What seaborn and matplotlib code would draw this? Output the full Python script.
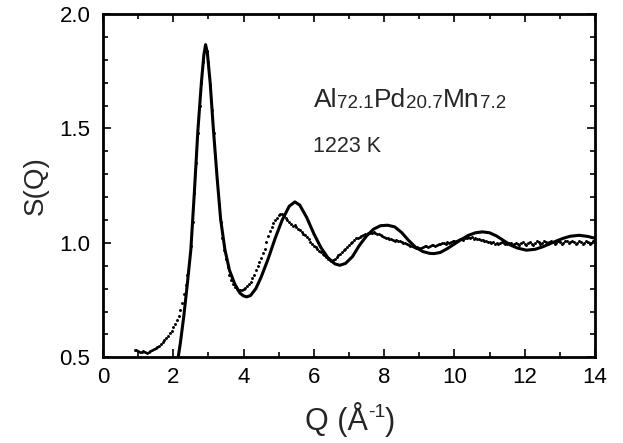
import numpy as np
import pandas as pd
import seaborn as sns
import matplotlib
matplotlib.use("Agg")
import matplotlib.pyplot as plt
from matplotlib.ticker import MultipleLocator, FormatStrFormatter

# 実験データ (点) : Q [1/Å], S(Q)
q_exp = [0.90, 0.95, 1.00, 1.05, 1.10, 1.15, 1.20, 1.25, 1.30, 1.35, 1.40, 1.45, 1.50,
         1.55, 1.60, 1.65, 1.70, 1.75, 1.80, 1.85, 1.90, 1.95, 2.00, 2.05, 2.10, 2.15,
         2.20, 2.25, 2.30, 2.35, 2.40, 2.45, 2.50, 2.55, 2.60, 2.65, 2.70, 2.75, 2.80,
         2.85, 2.90, 2.95, 3.00, 3.05, 3.10, 3.15, 3.20, 3.25, 3.30, 3.35, 3.40, 3.45,
         3.50, 3.55, 3.60, 3.65, 3.70, 3.75, 3.80, 3.85, 3.90, 3.95, 4.00, 4.05, 4.10,
         4.15, 4.20, 4.25, 4.30, 4.35, 4.40, 4.45, 4.50, 4.55, 4.60, 4.65, 4.70, 4.75,
         4.80, 4.85, 4.90, 4.95, 5.00, 5.05, 5.10, 5.15, 5.20, 5.25, 5.30, 5.35, 5.40,
         5.45, 5.50, 5.55, 5.60, 5.65, 5.70, 5.75, 5.80, 5.85, 5.90, 5.95, 6.00, 6.05,
         6.10, 6.15, 6.20, 6.25, 6.30, 6.35, 6.40, 6.45, 6.50, 6.55, 6.60, 6.65, 6.70,
         6.75, 6.80, 6.85, 6.90, 6.95, 7.00, 7.05, 7.10, 7.15, 7.20, 7.25, 7.30, 7.35,
         7.40, 7.45, 7.50, 7.55, 7.60, 7.65, 7.70, 7.75, 7.80, 7.85, 7.90, 7.95, 8.00,
         8.05, 8.10, 8.15, 8.20, 8.25, 8.30, 8.35, 8.40, 8.45, 8.50, 8.55, 8.60, 8.65,
         8.70, 8.75, 8.80, 8.85, 8.90, 8.95, 9.00, 9.05, 9.10, 9.15, 9.20, 9.25, 9.30,
         9.35, 9.40, 9.45, 9.50, 9.55, 9.60, 9.65, 9.70, 9.75, 9.80, 9.85, 9.90, 9.95,
         10.00, 10.05, 10.10, 10.15, 10.20, 10.25, 10.30, 10.35, 10.40, 10.45, 10.50,
         10.55, 10.60, 10.65, 10.70, 10.75, 10.80, 10.85, 10.90, 10.95, 11.00, 11.05,
         11.10, 11.15, 11.20, 11.25, 11.30, 11.35, 11.40, 11.45, 11.50, 11.55, 11.60,
         11.65, 11.70, 11.75, 11.80, 11.85, 11.90, 11.95, 12.00, 12.05, 12.10, 12.15,
         12.20, 12.25, 12.30, 12.35, 12.40, 12.45, 12.50, 12.55, 12.60, 12.65, 12.70,
         12.75, 12.80, 12.85, 12.90, 12.95, 13.00, 13.05, 13.10, 13.15, 13.20, 13.25,
         13.30, 13.35, 13.40, 13.45, 13.50, 13.55, 13.60, 13.65, 13.70, 13.75, 13.80,
         13.85, 13.90, 13.95, 14.00]
s_exp = [0.533, 0.530, 0.527, 0.524, 0.522, 0.526, 0.523, 0.519, 0.522, 0.527, 0.530,
         0.536, 0.540, 0.546, 0.551, 0.558, 0.566, 0.575, 0.585, 0.594, 0.604, 0.617,
         0.632, 0.646, 0.662, 0.682, 0.705, 0.737, 0.775, 0.815, 0.860, 0.915, 0.985,
         1.09, 1.22, 1.35, 1.48, 1.60, 1.70, 1.79, 1.85, 1.84, 1.79, 1.69, 1.58, 1.48,
         1.38, 1.27, 1.17, 1.09, 1.02, 0.97, 0.93, 0.895, 0.86, 0.838, 0.82, 0.808,
         0.800, 0.795, 0.793, 0.795, 0.798, 0.803, 0.810, 0.820, 0.830, 0.845, 0.860,
         0.880, 0.900, 0.918, 0.935, 0.955, 0.975, 1.002, 1.030, 1.050, 1.070, 1.085,
         1.100, 1.110, 1.120, 1.125, 1.128, 1.118, 1.110, 1.098, 1.090, 1.082, 1.075,
         1.078, 1.070, 1.062, 1.055, 1.048, 1.040, 1.033, 1.025, 1.015, 1.005, 0.995,
         0.985, 0.980, 0.975, 0.966, 0.958, 0.951, 0.945, 0.937, 0.930, 0.925, 0.922,
         0.925, 0.930, 0.937, 0.945, 0.952, 0.960, 0.968, 0.975, 0.983, 0.990, 0.998,
         1.005, 1.013, 1.020, 1.022, 1.026, 1.031, 1.035, 1.037, 1.040, 1.043, 1.045,
         1.042, 1.048, 1.044, 1.040, 1.038, 1.035, 1.030, 1.025, 1.022, 1.020, 1.018,
         1.015, 1.012, 1.010, 1.012, 1.008, 1.006, 1.004, 1.000, 0.998, 0.993, 0.990,
         0.988, 0.985, 0.981, 0.978, 0.983, 0.976, 0.979, 0.980, 0.986, 0.985, 0.982,
         0.985, 0.991, 0.990, 0.986, 0.990, 0.996, 0.995, 0.998, 1.000, 0.997, 1.004,
         1.001, 1.005, 1.008, 1.006, 1.010, 1.012, 1.016, 1.018, 1.014, 1.022, 1.020,
         1.026, 1.021, 1.024, 1.019, 1.020, 1.016, 1.015, 1.011, 1.012, 1.006, 1.010,
         1.004, 1.005, 1.000, 1.002, 0.996, 1.000, 0.995, 0.998, 1.003, 1.000, 0.993,
         0.995, 1.001, 0.998, 0.992, 0.994, 1.000, 0.996, 0.990, 0.998, 1.003, 0.995,
         0.990, 1.000, 1.005, 0.997, 0.992, 1.000, 1.006, 1.003, 0.996, 1.000, 1.007,
         1.004, 0.997, 1.002, 1.008, 1.005, 0.997, 1.000, 1.007, 1.003, 0.996, 1.000,
         1.008, 1.006, 0.998, 1.002, 1.009, 1.004, 0.996, 1.000, 1.007, 1.005, 0.997,
         1.000, 1.006, 1.003, 0.995, 0.998, 1.006, 1.002]

# 計算 (実線)
q_calc = [2.14, 2.20, 2.30, 2.40, 2.50, 2.60, 2.70, 2.80, 2.87, 2.92, 2.97, 3.05, 3.14,
          3.25, 3.35, 3.47, 3.60, 3.75, 3.90, 4.00, 4.09, 4.20, 4.35, 4.50, 4.70, 4.90,
          5.10, 5.30, 5.46, 5.60, 5.80, 6.00, 6.20, 6.40, 6.60, 6.74, 6.90, 7.10, 7.30,
          7.50, 7.70, 7.90, 8.10, 8.30, 8.50, 8.70, 8.90, 9.10, 9.30, 9.42, 9.60, 9.80,
          10.00, 10.20, 10.40, 10.60, 10.80, 11.00, 11.20, 11.40, 11.60, 11.80, 12.05,
          12.30, 12.50, 12.70, 12.90, 13.10, 13.30, 13.55, 13.80, 14.00]
s_calc = [0.50, 0.56, 0.68, 0.82, 0.97, 1.22, 1.49, 1.70, 1.82, 1.866, 1.83, 1.70, 1.50,
          1.28, 1.10, 0.97, 0.88, 0.82, 0.78, 0.768, 0.764, 0.77, 0.80, 0.85, 0.93, 1.02,
          1.10, 1.16, 1.179, 1.165, 1.11, 1.04, 0.98, 0.935, 0.908, 0.902, 0.91, 0.94,
          0.99, 1.03, 1.06, 1.075, 1.077, 1.07, 1.045, 1.01, 0.98, 0.962, 0.954, 0.953,
          0.958, 0.975, 0.995, 1.015, 1.033, 1.044, 1.048, 1.044, 1.03, 1.01, 0.99,
          0.977, 0.968, 0.972, 0.982, 0.995, 1.008, 1.02, 1.029, 1.033, 1.028, 1.02]

exp_df = pd.DataFrame({"Q": q_exp, "S": s_exp})
calc_df = pd.DataFrame({"Q": q_calc, "S": s_calc})

sns.set_style("ticks")
plt.rcParams["font.family"] = ["Liberation Sans", "DejaVu Sans"]

fig = plt.figure(figsize=(6.23, 4.43), dpi=100)
ax = fig.add_axes([0.1653, 0.1935, 0.7897, 0.7749])

sns.scatterplot(data=exp_df, x="Q", y="S", ax=ax, color="black", s=4.5,
                linewidth=0, marker="o")
sns.lineplot(data=calc_df, x="Q", y="S", ax=ax, color="black", lw=2.2,
             sort=False, estimator=None)

ax.set_xlim(0, 14)
ax.set_ylim(0.5, 2.0)
ax.xaxis.set_major_locator(MultipleLocator(2))
ax.xaxis.set_minor_locator(MultipleLocator(1))
ax.yaxis.set_major_locator(MultipleLocator(0.5))
ax.yaxis.set_minor_locator(MultipleLocator(0.1))
ax.yaxis.set_major_formatter(FormatStrFormatter("%.1f"))
ax.tick_params(which="both", direction="in", top=True, right=True, width=1.2,
               color="black", labelsize=16, labelcolor="black")
ax.tick_params(axis="x", which="both", pad=7)
ax.tick_params(axis="y", which="both", pad=9)
ax.tick_params(which="major", length=5.5)
ax.tick_params(which="minor", length=3.5)
for sp in ax.spines.values():
    sp.set_linewidth(2)
    sp.set_color("black")
    sp.set_visible(True)

ax.set_xlabel("")
ax.set_ylabel("S(Q)", fontsize=20, labelpad=8)


def chain(pieces, x, y):
    # 文字を順番に並べる (下付き・上付き用)
    first = fig.text(x, y, pieces[0][0], fontsize=pieces[0][1], va="bottom", ha="left")
    prev = first
    for txt, size, yfrac, va in pieces[1:]:
        prev = ax.annotate(txt, xy=(1, yfrac), xycoords=(prev, first), fontsize=size,
                           va=va, ha="left")
    return prev


# 組成
chain([("Al", 19), ("72.1", 13.5, 0, "bottom"), ("Pd", 19, 0, "bottom"),
       ("20.7", 13.5, 0, "bottom"), ("Mn", 19, 0, "bottom"), ("7.2", 13.5, 0, "bottom")],
      314 / 623, 1 - 112 / 443)
fig.text(313 / 623, 1 - 157 / 443, "1223 K", fontsize=15.5, va="bottom", ha="left")

# x軸ラベル
chain([("Q (Å", 22), ("-1", 14, 0.93, "top"), (")", 22, 0, "bottom")],
      305 / 623, 1 - 437 / 443)

fig.savefig("out.png", dpi=100)
